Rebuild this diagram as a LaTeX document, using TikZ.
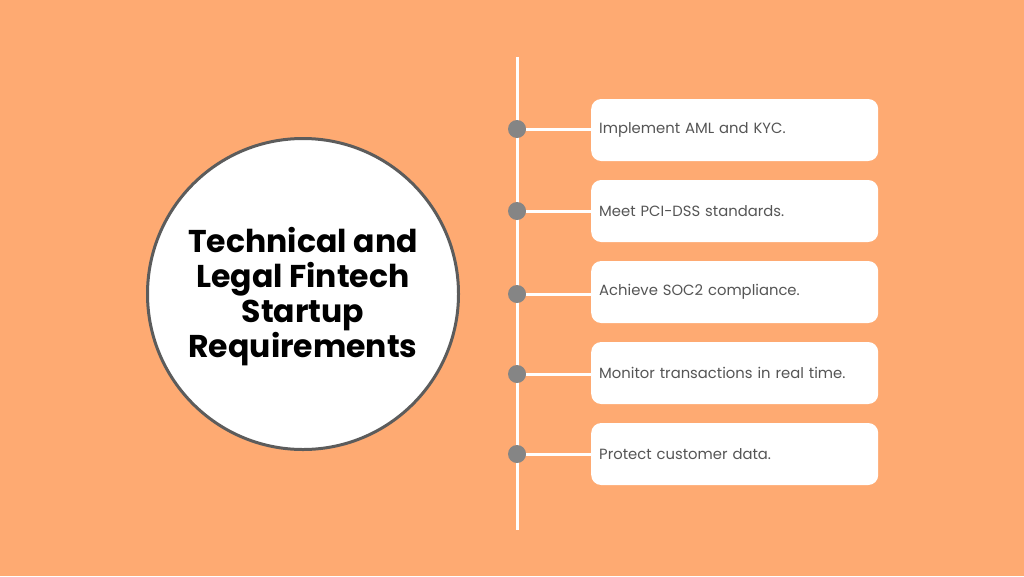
\documentclass[tikz,border=0pt]{standalone}
\usepackage{fontspec}
\setmainfont{Poppins}
\usepackage{xcolor}
\usepackage{tikz}
\usetikzlibrary{positioning}

\definecolor{bgorange}{HTML}{FEAA72}
\definecolor{rimgray}{HTML}{5C5C5C}
\definecolor{dotgray}{HTML}{858585}
\definecolor{txtgray}{HTML}{555555}

\begin{document}
\begin{tikzpicture}[x=1pt, y=-1pt,
    reqbox/.style={draw=none, fill=white, rounded corners=10pt, anchor=west,
        minimum width=287pt, minimum height=62pt, text width=271pt,
        inner xsep=8pt, align=left, text=txtgray, font=\fontsize{14.8}{18}\selectfont},
    dot/.style={circle, fill=dotgray, minimum size=18pt, inner sep=0pt},
    link/.style={white, line width=3pt}]
    % Fond
    \fill[bgorange] (0,0) rectangle (1024,576);
    \useasboundingbox (0,0) rectangle (1024,576);

    % Cercle du titre
    \node[circle, fill=white, draw=rimgray, line width=3pt, minimum size=311pt] (title) at (303,294) {};
    \node[align=center, font=\fontsize{31.5}{35}\selectfont\bfseries] (titletext) at (303,297)
        {Technical and\\Legal Fintech\\Startup\\Requirements};

    % Ligne verticale
    \coordinate (top) at (517,57);
    \coordinate (bottom) at (517,530);
    \draw[link] (top) -- (bottom);

    % Etapes
    \node[reqbox] (b1) at (591,130) {Implement AML and KYC.};
    \node[reqbox] (b2) at (591,211) {Meet PCI-DSS standards.};
    \node[reqbox] (b3) at (591,292) {Achieve SOC2 compliance.};
    \node[reqbox] (b4) at (591,373) {Monitor transactions in real time.};
    \node[reqbox] (b5) at (591,454) {Protect customer data.};

    \node[dot] (d1) at (517,129) {};
    \node[dot] (d2) at (517,211) {};
    \node[dot] (d3) at (517,294) {};
    \node[dot] (d4) at (517,374) {};
    \node[dot] (d5) at (517,454) {};

    % Liaisons
    \draw[link] (d1) -- (b1.west |- d1);
    \draw[link] (d2) -- (b2.west |- d2);
    \draw[link] (d3) -- (b3.west |- d3);
    \draw[link] (d4) -- (b4.west |- d4);
    \draw[link] (d5) -- (b5.west |- d5);
\end{tikzpicture}
\end{document}
